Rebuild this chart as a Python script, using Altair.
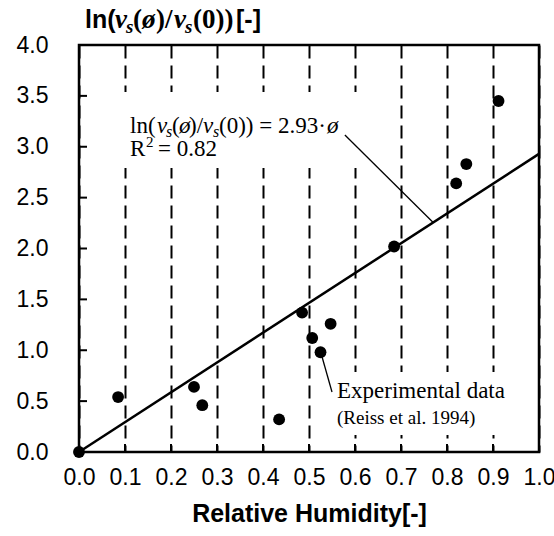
import altair as alt
import pandas as pd

# Measured relative humidity and log growth ratio (Reiss et al. 1994)
humidity = [0.0, 0.085, 0.25, 0.268, 0.435, 0.485, 0.507, 0.525, 0.547, 0.685, 0.82, 0.842, 0.912]
log_ratio = [0.0, 0.54, 0.64, 0.46, 0.32, 1.37, 1.12, 0.98, 1.26, 2.02, 2.64, 2.83, 3.45]

# Linear fit through the origin
slope = 2.93
fit_x = [0.0, 1.0]

# Tick positions
x_ticks = [round(0.1 * i, 1) for i in range(11)]
y_ticks = [round(0.5 * i, 1) for i in range(9)]
x_inner = [round(0.1 * i, 1) for i in range(1, 10)]
y_inner = [round(0.5 * i, 1) for i in range(1, 8)]

# Leader lines for the two annotations (data units)
leader_x0 = [0.578, 0.526]
leader_y0 = [3.115, 0.973]
leader_x1 = [0.770, 0.550]
leader_y1 = [slope * 0.770, 0.59]

W, H = 460, 407
SANS = "Liberation Sans"
SERIF = "Liberation Serif"

xscale = alt.Scale(domain=[0, 1], nice=False)
yscale = alt.Scale(domain=[0, 4], nice=False)

pts = pd.DataFrame({"rh": humidity, "lr": log_ratio})
fit = pd.DataFrame({"rh": fit_x, "lr": [slope * v for v in fit_x]})

points = alt.Chart(pts).mark_circle(size=140, color="black", opacity=1).encode(
    x=alt.X(
        "rh:Q",
        scale=xscale,
        axis=alt.Axis(
            values=x_ticks, format=".1f", title="Relative Humidity[-]",
            grid=True, gridDash=[13, 7], gridColor="black", gridWidth=2, gridOpacity=1,
            ticks=False, domain=False, labelPadding=14, labelFlush=False,
            labelFontSize=23, labelFont=SANS, labelColor="black",
            titleFont=SANS, titleFontSize=25, titleFontWeight="bold",
            titleColor="black", titlePadding=12,
        ),
    ),
    y=alt.Y(
        "lr:Q",
        scale=yscale,
        axis=alt.Axis(
            values=y_ticks, format=".1f", title=None, grid=False,
            ticks=False, domain=False, labelPadding=31,
            labelFontSize=23, labelFont=SANS, labelColor="black",
        ),
    ),
)

fit_line = alt.Chart(fit).mark_line(color="black", strokeWidth=2.5).encode(
    x=alt.X("rh:Q", scale=xscale, axis=None),
    y=alt.Y("lr:Q", scale=yscale, axis=None),
)

leaders = alt.Chart(pd.DataFrame({
    "x0": leader_x0, "y0": leader_y0, "x1": leader_x1, "y1": leader_y1,
})).mark_rule(color="black", strokeWidth=1.3).encode(
    x=alt.X("x0:Q", scale=xscale, axis=None),
    y=alt.Y("y0:Q", scale=yscale, axis=None),
    x2="x1:Q",
    y2="y1:Q",
)

# Inward tick marks
ytick_marks = alt.Chart(pd.DataFrame({"v": y_inner})).mark_rule(color="black", strokeWidth=2).encode(
    y=alt.Y("v:Q", scale=yscale, axis=None),
    x=alt.value(0),
    x2=alt.value(8),
)
xtick_marks = alt.Chart(pd.DataFrame({"v": x_inner})).mark_rule(color="black", strokeWidth=2).encode(
    x=alt.X("v:Q", scale=xscale, axis=None),
    y=alt.value(H - 8),
    y2=alt.value(H),
)


def text_box(x0, x1, y0, y1):
    # white backing so the dashed grid stops behind annotation text
    return alt.Chart(pd.DataFrame({"k": [0]})).mark_rect(color="white").encode(
        x=alt.value(x0), x2=alt.value(x1), y=alt.value(y0), y2=alt.value(y1)
    )


def piece(text, x, y, size, font, weight="normal", style="normal"):
    return alt.Chart(pd.DataFrame({"t": [text]})).mark_text(
        align="left", baseline="alphabetic", font=font, fontSize=size,
        fontWeight=weight, fontStyle=style, color="black",
    ).encode(x=alt.value(x), y=alt.value(y), text="t:N")


# Y-axis title: ln(v_s(ø)/v_s(0))[-]
ty = -17
y_title = [
    piece("ln(", 6, ty, 25, SANS, "bold"),
    piece("v", 36, ty, 27, SERIF, "bold", "italic"),
    piece("s", 47, ty + 5, 19, SERIF, "bold", "italic"),
    piece("(", 54, ty, 27, SERIF, "bold"),
    piece("ø", 63, ty, 27, SERIF, "bold", "italic"),
    piece(")/", 77, ty, 27, SERIF, "bold"),
    piece("v", 95, ty, 27, SERIF, "bold", "italic"),
    piece("s", 106, ty + 5, 19, SERIF, "bold", "italic"),
    piece("(0))", 114, ty, 27, SERIF, "bold"),
    piece("[-]", 157, ty, 25, SANS, "bold"),
]

# Fit equation and R²
ey = 88
equation = [
    piece("ln(", 51, ey, 23, SERIF),
    piece("v", 78, ey, 23, SERIF, style="italic"),
    piece("s", 87, ey + 4, 16, SERIF, style="italic"),
    piece("(", 93, ey, 23, SERIF),
    piece("ø", 100, ey, 23, SERIF, style="italic"),
    piece(")/", 110, ey, 23, SERIF),
    piece("v", 124, ey, 23, SERIF, style="italic"),
    piece("s", 134, ey + 4, 16, SERIF, style="italic"),
    piece("(0)) = 2.93·", 140, ey, 23, SERIF),
    piece("ø", 248, ey, 23, SERIF, style="italic"),
    piece("R", 51, ey + 23, 23, SERIF),
    piece("2", 67, ey + 14, 15, SERIF),
    piece("= 0.82", 79, ey + 23, 23, SERIF),
]

source_note = [
    piece("Experimental data", 258, 353, 23, SERIF),
    piece("(Reiss et al. 1994)", 258, 379, 19, SERIF),
]

chart = alt.layer(
    points, fit_line,
    text_box(38, 286, 47, 123),
    text_box(253, 432, 327, 390),
    leaders, ytick_marks, xtick_marks,
    *y_title, *equation, *source_note,
).resolve_axis(
    x="independent", y="independent"
).properties(
    width=W,
    height=H,
    padding={"left": 79, "top": 45, "right": 15, "bottom": 84},
    autosize="none",
    background="white",
).configure_view(stroke="black", strokeWidth=2.5)

chart.save("out.html", embed_options={"renderer": "svg", "actions": False})
